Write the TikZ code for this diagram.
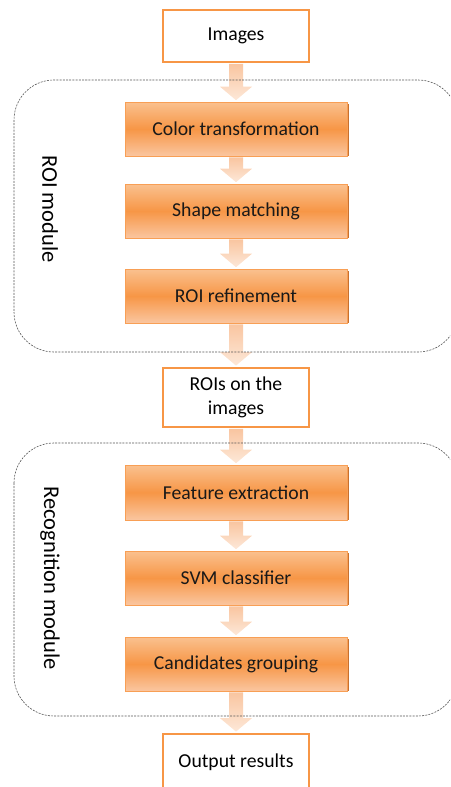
\documentclass[tikz,border=0pt]{standalone}
\usepackage{fontspec}
\setmainfont{Carlito}
\usetikzlibrary{calc}
\definecolor{orangeM}{HTML}{F79646}
\definecolor{orangeL}{HTML}{FAC18F}
\definecolor{orangeB}{HTML}{FAC6A0}
\definecolor{orangeD}{HTML}{C8702E}
\definecolor{arrowT}{HTML}{F9C5A0}
\definecolor{arrowB}{HTML}{FDE8D8}
\definecolor{dashgray}{HTML}{555555}
\tikzset{
  boxfont/.style={font=\fontsize{19.7}{24}\selectfont},
  whitebox/.style={draw=orangeM, line width=1.8pt, fill=white, minimum width=146pt, inner sep=2pt, align=center, boxfont, text=black},
  orangebox/.style={draw=orangeM!80!orangeL, line width=0.6pt, minimum width=222pt, minimum height=54pt, inner sep=2pt, align=center, boxfont, text=black!90,
     top color=orangeL, bottom color=orangeB, middle color=orangeM},
  modulebox/.style={draw=dashgray, line width=0.6pt, dash pattern=on 2pt off 1.2pt, rounded corners=40pt},
  modlabel/.style={rotate=-90, font=\fontsize{22.5}{26}\selectfont, text=black},
  arrowshape/.style={top color=arrowT, bottom color=arrowB, draw=none},
}
\newcommand\barrow[2]{%
  \path[arrowshape] ($(#1.south)+(-7,1)$) -- ($(#1.south)+(7,1)$) -- ($(#2.north)+(7,-15)$) -- ($(#2.north)+(16,-15)$) -- ($(#2.north)+(0,-1.5)$) -- ($(#2.north)+(-16,-15)$) -- ($(#2.north)+(-7,-15)$) -- cycle;}
\newcommand\shadowed[1]{%
  \fill[orangeD] ($(#1.south west)+(0.5,0)$) rectangle ($(#1.north east)+(1.2,2)$);}
\begin{document}
\begin{tikzpicture}[x=1pt,y=-1pt]
\useasboundingbox (0,0) rectangle (450,787);
\clip (0,0) rectangle (450,787);
% nodes
\node[whitebox, minimum height=52pt] (img) at (236,36) {Images};
\node[orangebox] (c1) at (236,129) {Color transformation};
\node[orangebox] (c2) at (236,211) {Shape matching};
\node[orangebox] (c3) at (236,296) {ROI refinement};
\node[whitebox, minimum height=59pt] (rois) at (236,397.5) {ROIs on the\\images};
\node[orangebox, minimum height=55pt] (r1) at (236,492.5) {Feature extraction};
\node[orangebox] (r2) at (236,578) {SVM classifier};
\node[orangebox] (r3) at (236,664) {Candidates grouping};
\node[whitebox, minimum height=56pt] (out) at (236,762) {Output results};
% shadows, then boxes redrawn on top
\foreach \n in {c1,c2,c3,r1,r2,r3} {\shadowed{\n}}
\node[orangebox] at (c1) {Color transformation};
\node[orangebox] at (c2) {Shape matching};
\node[orangebox] at (c3) {ROI refinement};
\node[orangebox, minimum height=55pt] at (r1) {Feature extraction};
\node[orangebox] at (r2) {SVM classifier};
\node[orangebox] at (r3) {Candidates grouping};
% arrows
\barrow{img}{c1}
\barrow{c1}{c2}
\barrow{c2}{c3}
\barrow{c3}{rois}
\barrow{rois}{r1}
\barrow{r1}{r2}
\barrow{r2}{r3}
\barrow{r3}{out}
% modules
\coordinate (m1a) at (14,80);
\coordinate (m1b) at (458,352);
\coordinate (m2a) at (14,443);
\coordinate (m2b) at (458,716);
\draw[modulebox] (m1a) rectangle (m1b);
\draw[modulebox] (m2a) rectangle (m2b);
\node[modlabel] (l1) at (50,209) {ROI module};
\node[modlabel] (l2) at (50,578) {Recognition module};
\end{tikzpicture}
\end{document}
